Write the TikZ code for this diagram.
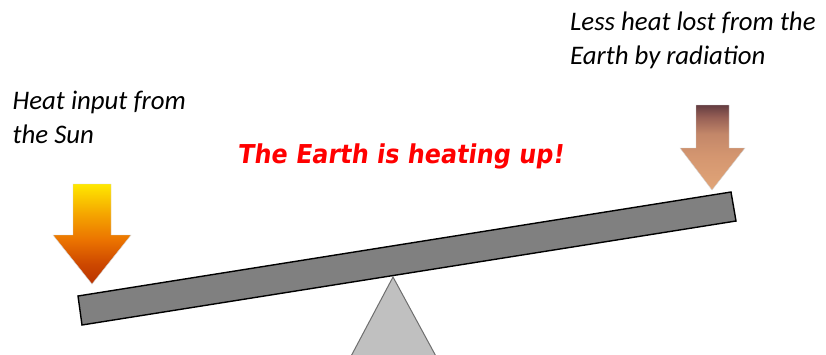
\documentclass[tikz,border=0pt]{standalone}
\usepackage{fontspec}
\setmainfont{Carlito}
\newfontfamily\redfont{DejaVu Sans}
\definecolor{sa1}{RGB}{185,50,0}
\definecolor{sa2}{RGB}{205,72,0}
\definecolor{sa3}{RGB}{235,115,0}
\definecolor{sa4}{RGB}{245,165,0}
\definecolor{sa5}{RGB}{255,232,0}
\definecolor{ra1}{RGB}{225,165,120}
\definecolor{ra2}{RGB}{212,150,112}
\definecolor{ra3}{RGB}{195,135,105}
\definecolor{ra4}{RGB}{150,95,85}
\definecolor{ra5}{RGB}{100,60,65}
\pgfdeclareverticalshading{sunshade}{100bp}{color(0bp)=(sa1); color(25bp)=(sa1); color(35bp)=(sa2); color(47bp)=(sa3); color(60bp)=(sa4); color(75bp)=(sa5); color(100bp)=(sa5)}
\pgfdeclareverticalshading{radshade}{100bp}{color(0bp)=(ra1); color(25bp)=(ra1); color(45bp)=(ra2); color(58bp)=(ra3); color(68bp)=(ra4); color(75bp)=(ra5); color(100bp)=(ra5)}
\begin{document}
\begin{tikzpicture}[x=1pt,y=-1pt,
  lbl/.style={font=\fontsize{26.8}{34}\selectfont\itshape, anchor=base west, inner sep=0pt, align=left},
  beamst/.style={fill={rgb,255:red,128;green,128;blue,128}, draw=black, line width=1.4pt, line join=miter},
  fulcst/.style={fill={rgb,255:red,192;green,192;blue,192}, draw={rgb,255:red,110;green,110;blue,110}, line width=1pt},
  arrowedge/.style={draw={rgb,255:red,212;green,212;blue,212}, line width=0.4pt}]
\useasboundingbox (0,0) rectangle (826,354);
\clip (0,0) rectangle (826,354);
\fill[white] (0,0) rectangle (826,354);
% fulcrum
\draw[fulcst] (393,277) -- (349,360) -- (438,360) -- cycle;
% beam
\draw[beamst] (78,296) -- (731,192) -- (736,221) -- (82,325) -- cycle;
% left arrow (sun)
\shade[shading=sunshade, arrowedge]
  (73,184) -- (111,184) -- (111,235) -- (131,235) -- (92,284) -- (53,235) -- (73,235) -- cycle;
% right arrow (radiation)
\shade[shading=radshade, arrowedge]
  (696,105) -- (729,105) -- (729,148) -- (745,148) -- (712,190) -- (680,148) -- (696,148) -- cycle;
% labels
\node[lbl] (sun) at (12.5,143.3) {Heat input from\\the Sun};
\node[lbl] (loss) at (570,64) {Less heat lost from the\\Earth by radiation};
\node[anchor=base west, inner sep=0pt, text={rgb,255:red,255;green,0;blue,0}, font=\redfont\bfseries\fontsize{26}{30}\selectfont] (title) at (237,163.3) {\scalebox{0.92}[1]{\addfontfeature{FakeSlant=0.15}The Earth is heating up!}};
\end{tikzpicture}
\end{document}
